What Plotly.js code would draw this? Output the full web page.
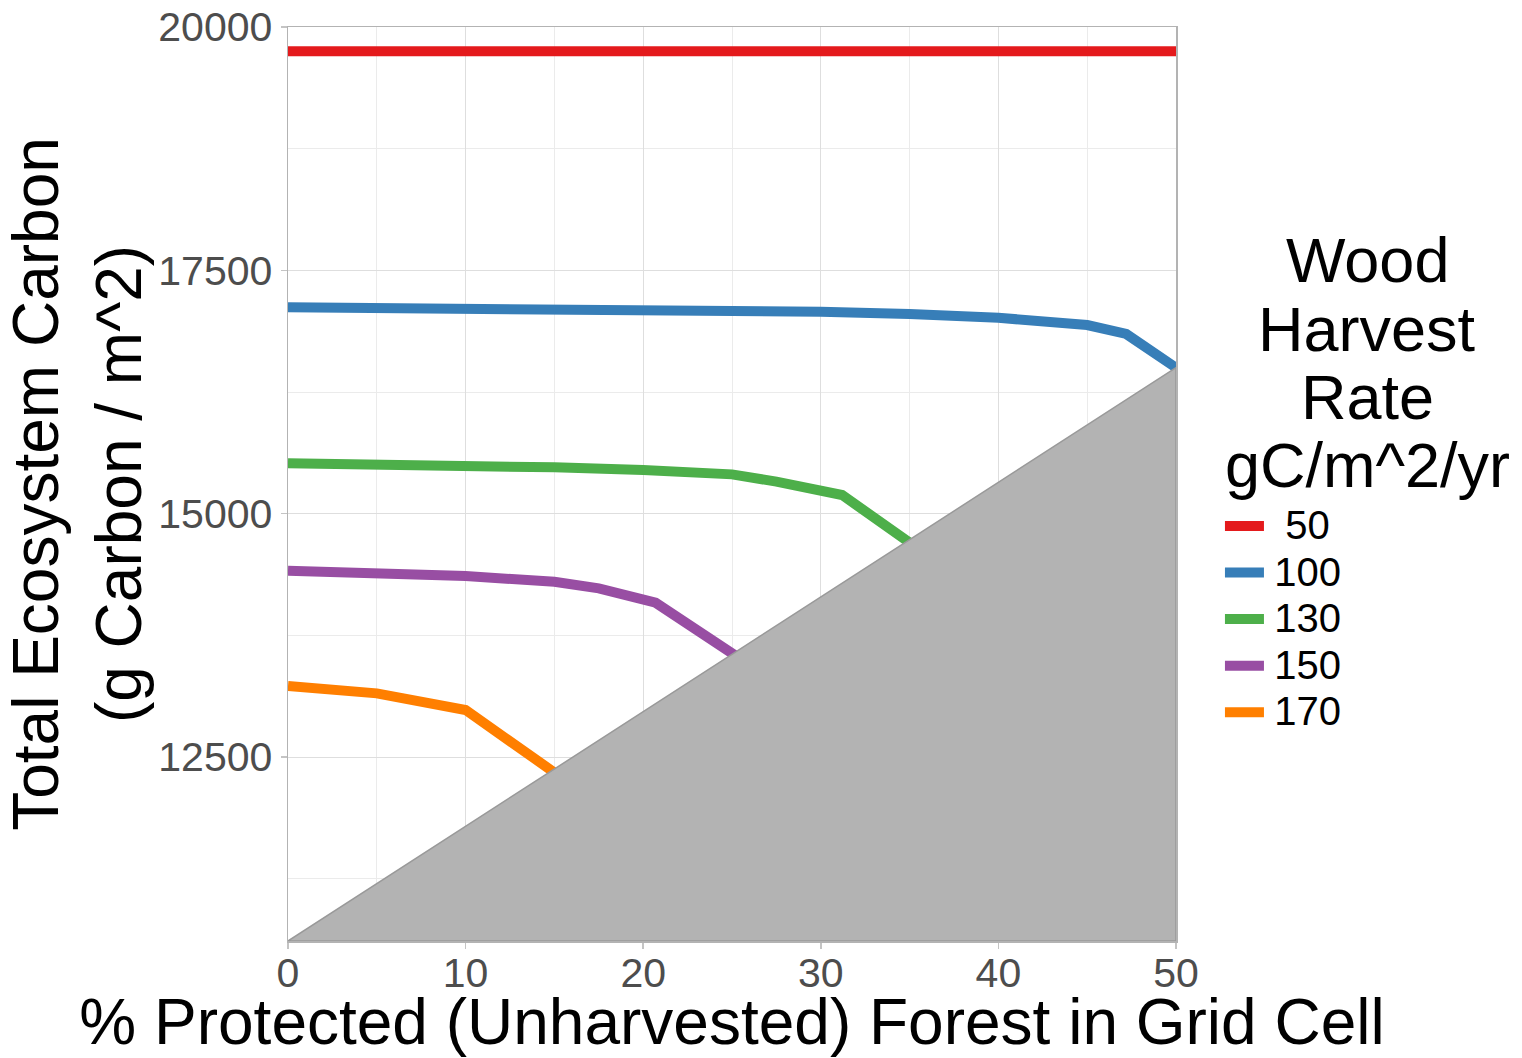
<!DOCTYPE html>
<html>
<head>
<meta charset="utf-8">
<script src="https://cdn.plot.ly/plotly-3.0.1.min.js"></script>
<style>html,body{margin:0;padding:0;background:#fff;}#chart{width:1522px;height:1058px;}</style>
</head>
<body>
<div id="chart"></div>
<script>
// Harvest rates (gC/m^2/yr)
const rateLabels = ["\u00a050", "100", "130", "150", "170"];
const rateColors = ["#e41a1c", "#377eb8", "#4daf4a", "#984ea3", "#ff7f00"];

// % protected forest and total ecosystem carbon for each rate
const x50  = [0, 10, 20, 30, 40, 50];
const y50  = [19750, 19750, 19750, 19750, 19750, 19750];

const x100 = [0, 10, 20, 30, 35, 40, 45, 47.2, 50];
const y100 = [17120, 17113, 17103, 17075, 17051, 17013, 16938, 16846, 16500];

const x130 = [0, 5, 10, 15, 20, 25, 27.5, 31.2, 35.3];
const y130 = [15517, 15510, 15493, 15476, 15449, 15404, 15329, 15192, 14665];

const x150 = [0, 5, 10, 15, 17.5, 20.7, 25.4];
const y150 = [14414, 14394, 14359, 14301, 14233, 14085, 13517];

const x170 = [0, 2.5, 5, 10, 15.2];
const y170 = [13229, 13200, 13154, 12983, 12315];

// unreachable region (shaded triangle)
const triX = [0, 50, 50, 0];
const triY = [10610, 16500, 10610, 10610];

const xs = [x50, x100, x130, x150, x170];
const ys = [y50, y100, y130, y150, y170];

const FONT = "Liberation Sans, Arial, Helvetica, sans-serif";

const traces = xs.map((x, i) => ({
  type: "scatter", mode: "lines", x: x, y: ys[i],
  name: '<span style="font-size:19px">\u00a0</span><span style="font-size:40px">' + rateLabels[i] + '</span>',
  line: {color: rateColors[i], width: 10, shape: "linear"},
  hoverinfo: "x+y"
}));
traces.push({
  type: "scatter", mode: "lines", x: triX, y: triY, fill: "toself",
  fillcolor: "#b3b3b3", line: {color: "#999999", width: 1.5},
  showlegend: false, hoverinfo: "skip"
});

const legendTitleLines = ["Wood", "Harvest", "Rate", "gC/m^2/yr"];
const legendTitleY = [0.7451, 0.6696, 0.5952, 0.5208];

const layout = {
  width: 1522, height: 1058,
  margin: {l: 288, r: 346, t: 27, b: 117},
  paper_bgcolor: "#ffffff", plot_bgcolor: "#ffffff",
  font: {family: FONT, color: "#000000"},
  showlegend: true,
  xaxis: {
    range: [0, 50], tickvals: [0, 10, 20, 30, 40, 50], ticktext: ["0","10","20","30","40","50"],
    showgrid: true, gridcolor: "#dedede", gridwidth: 1,
    minor: {tickvals: [5, 15, 25, 35, 45], showgrid: true, gridcolor: "#ebebeb", gridwidth: 1, ticks: ""},
    showline: true, mirror: true, linecolor: "#b3b3b3", linewidth: 1.5,
    ticks: "outside", ticklen: 6, tickcolor: "#c4c4c4", tickwidth: 1.5,
    tickfont: {family: FONT, size: 41, color: "#4d4d4d"},
    ticklabelstandoff: -11,
    zeroline: false,
    title: {text: "% Protected (Unharvested) Forest in Grid Cell", font: {family: FONT, size: 64, color: "#000000"}, standoff: 26}
  },
  yaxis: {
    range: [10610, 20000], tickvals: [12500, 15000, 17500, 20000], ticktext: ["12500","15000","17500","20000"],
    showgrid: true, gridcolor: "#dedede", gridwidth: 1,
    minor: {tickvals: [11250, 13750, 16250, 18750], showgrid: true, gridcolor: "#ebebeb", gridwidth: 1, ticks: ""},
    showline: true, mirror: true, linecolor: "#b3b3b3", linewidth: 1.5,
    ticks: "outside", ticklen: 6, tickcolor: "#c4c4c4", tickwidth: 1.5,
    tickfont: {family: FONT, size: 41, color: "#4d4d4d"},
    ticklabelstandoff: 0,
    zeroline: false,
    title: {text: "Total Ecosystem Carbon<br>(g Carbon / m^2)", font: {family: FONT, size: 64, color: "#000000"}, standoff: 16}
  },
  legend: {
    x: 1.0495, xanchor: "left", y: 0.4850, yanchor: "top",
    font: {family: FONT, size: 33.5, color: "#000000"},
    bgcolor: "rgba(0,0,0,0)", borderwidth: 0, itemwidth: 39,
    tracegroupgap: 0
  },
  annotations: legendTitleLines.map((t, i) => ({
    text: t, xref: "paper", yref: "paper", x: 1.2151, y: legendTitleY[i],
    xanchor: "center", yanchor: "middle", showarrow: false,
    font: {family: FONT, size: 63, color: "#000000"}
  }))
};

Plotly.newPlot("chart", traces, layout, {displayModeBar: false, staticPlot: true});
</script>
</body>
</html>
